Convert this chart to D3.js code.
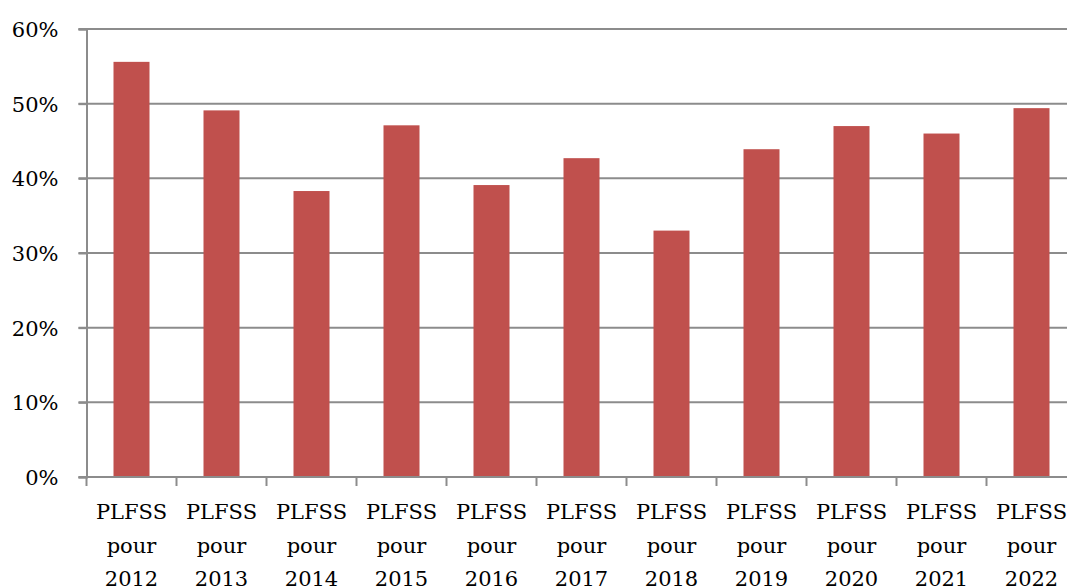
<!DOCTYPE html>
<html><head><meta charset="utf-8">
<script src="https://cdn.jsdelivr.net/npm/d3@7"></script>
<style>body{margin:0;background:#fff}svg{display:block}</style>
</head><body>
<svg id="c" width="1067" height="586"></svg>
<script>
const categories = ["2012","2013","2014","2015","2016","2017","2018","2019","2020","2021","2022"];
const values = [55.6, 49.1, 38.3, 47.1, 39.1, 42.7, 33.0, 43.9, 47.0, 46.0, 49.4];
const yTicks = [0, 10, 20, 30, 40, 50, 60];
const labelLines = ["PLFSS", "pour"];

const svg = d3.select("#c");
const x0 = 86.5, x1 = 1076.5, yB = 477, yT = 29;
const x = d3.scaleBand().domain(categories).range([x0, x1]).paddingInner(0.6).paddingOuter(0.3);
const xb = d3.scaleBand().domain(categories).range([x0, x1]);
const y = d3.scaleLinear().domain([0, 60]).range([yB, yT]);
const font = "'DejaVu Serif', serif";
const grid = "#8c8c8c";

// gridlines
svg.append("g").selectAll("line").data(yTicks.filter(d => d > 0)).join("line")
  .attr("x1", x0 - 8).attr("x2", 1067).attr("y1", d => y(d)).attr("y2", d => y(d))
  .attr("stroke", grid).attr("stroke-width", 2);

// bars
svg.append("g").selectAll("rect").data(categories).join("rect")
  .attr("x", d => x(d)).attr("width", x.bandwidth())
  .attr("y", (d, i) => y(values[i])).attr("height", (d, i) => yB - y(values[i]))
  .attr("fill", "#c0504d");

// y axis
const ya = svg.append("g").attr("transform", `translate(${x0},0)`)
  .call(d3.axisLeft(y).tickValues(yTicks).tickFormat(d => d + "%").tickSize(8).tickPadding(20));
ya.select(".domain").attr("stroke", grid).attr("stroke-width", 2);
ya.selectAll(".tick line").attr("stroke", grid).attr("stroke-width", 2);
ya.selectAll(".tick text").attr("font-family", font).attr("font-size", 21).attr("fill", "#000").attr("dy", "0.36em");

// x axis line + ticks at boundaries
svg.append("line").attr("x1", x0 - 8).attr("x2", 1067).attr("y1", yB).attr("y2", yB)
  .attr("stroke", grid).attr("stroke-width", 2);
svg.append("g").selectAll("line").data(categories).join("line")
  .attr("x1", d => xb(d)).attr("x2", d => xb(d)).attr("y1", yB).attr("y2", yB + 9)
  .attr("stroke", grid).attr("stroke-width", 2);

// x labels
const lg = svg.append("g").selectAll("text").data(categories).join("text")
  .attr("font-family", font).attr("font-size", 21).attr("fill", "#000").attr("text-anchor", "middle");
lg.each(function(d) {
  const t = d3.select(this), cx = xb(d) + xb.bandwidth() / 2;
  [...labelLines, d].forEach((s, i) => t.append("tspan").attr("x", cx).attr("y", 519 + i * 33.5).text(s));
});
</script>
</body></html>
